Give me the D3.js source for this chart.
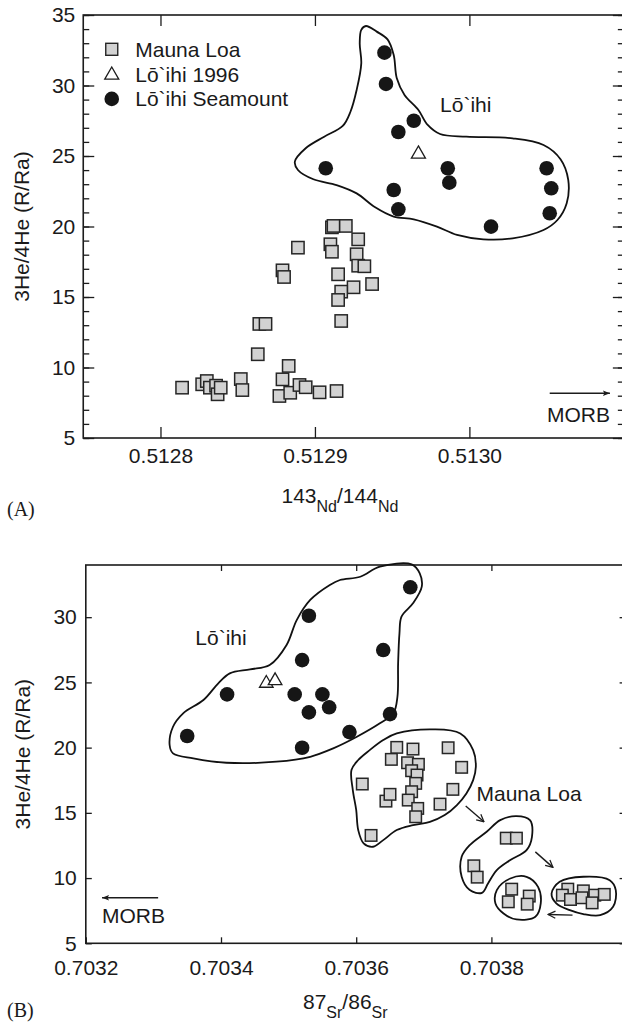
<!DOCTYPE html>
<html><head><meta charset="utf-8">
<script src="https://cdn.jsdelivr.net/npm/d3@7"></script>
<style>
body{margin:0;background:#fff}
text{font-family:"Liberation Sans",Arial,Helvetica,sans-serif;fill:#1a1a1a}
text.serif{font-family:"Liberation Serif","Times New Roman",serif}
</style>
</head><body>
<svg id="c" width="622" height="1022"></svg>
<script>
// ---------- DATA ----------
// Panel A: 143Nd/144Nd vs 3He/4He
const ndTicks = [0.5128, 0.5129, 0.5130];
const ndTickLabels = ["0.5128", "0.5129", "0.5130"];
const heTicksA = [5, 10, 15, 20, 25, 30, 35];
const heMinorA = d3.range(5, 36, 1);
const ndMaunaLoa = [
  [0.512814,8.57],[0.512827,8.81],[0.512830,9.04],[0.512832,8.57],[0.512836,8.71],[0.512837,8.10],
  [0.512839,8.57],[0.512852,9.18],[0.512853,8.40],[0.512863,10.94],[0.512864,13.09],[0.512868,13.09],
  [0.512879,16.89],[0.512880,16.42],[0.512889,18.50],[0.512883,10.11],[0.512879,9.16],[0.512877,7.98],
  [0.512884,8.21],[0.512890,8.76],[0.512894,8.60],[0.512903,8.24],[0.512914,8.33],[0.512911,19.94],
  [0.512912,20.04],[0.512920,20.04],[0.512910,18.74],[0.512911,18.21],[0.512928,19.09],[0.512927,18.03],
  [0.512928,17.22],[0.512932,17.18],[0.512915,16.61],[0.512925,15.69],[0.512937,15.92],[0.512917,15.38],
  [0.512915,14.79],[0.512917,13.30]
];
const ndLoihi1996 = [[0.512967,25.14]];
const ndLoihiSeamount = [
  [0.512945,32.33],[0.512946,30.11],[0.512964,27.50],[0.512954,26.70],[0.512907,24.13],[0.512986,24.13],
  [0.512987,23.11],[0.512951,22.59],[0.512954,21.22],[0.513014,19.99],[0.513050,24.13],[0.513053,22.71],
  [0.513052,20.94]
];
const ndLoihiEnvelope = [
  [0.512933,34.22],[0.512940,33.82],[0.512947,33.27],[0.512951,32.16],[0.512953,30.51],[0.512958,29.33],
  [0.512967,28.26],[0.512973,27.20],[0.512981,26.56],[0.512998,26.37],[0.513028,26.25],[0.513048,25.78],
  [0.513059,24.77],[0.513064,23.30],[0.513063,21.65],[0.513057,20.46],[0.513048,19.75],[0.513028,19.16],
  [0.513009,19.09],[0.512992,19.40],[0.512979,19.99],[0.512964,20.51],[0.512951,20.70],[0.512939,21.36],
  [0.512927,22.35],[0.512914,22.94],[0.512899,23.35],[0.512889,24.01],[0.512887,24.60],[0.512894,25.55],
  [0.512906,26.37],[0.512918,27.13],[0.512923,28.14],[0.512927,29.68],[0.512930,31.57],[0.512929,32.99],
  [0.512930,33.94]
];
const ndMorbArrow = [[0.513052,8.17],[0.513091,8.17]];
const ndMorbLabel = [0.513091,6.16];
const ndLoihiLabel = [0.512981,28.14];

// Panel B: 87Sr/86Sr vs 3He/4He
const srTicks = [0.7032, 0.7034, 0.7036, 0.7038];
const srTickLabels = ["0.7032", "0.7034", "0.7036", "0.7038"];
const heTicksB = [5, 10, 15, 20, 25, 30];
const srMaunaLoa = [
  [0.703660,20.02],[0.703684,19.89],[0.703736,19.99],[0.703652,19.10],[0.703676,18.84],[0.703692,18.72],
  [0.703756,18.49],[0.703682,18.23],[0.703690,17.90],[0.703609,17.21],[0.703688,17.26],[0.703743,16.80],
  [0.703682,16.62],[0.703644,15.90],[0.703650,16.42],[0.703677,15.98],[0.703724,15.67],[0.703691,15.34],
  [0.703688,14.70],[0.703622,13.27],
  [0.703822,13.06],[0.703837,13.06],[0.703774,10.94],[0.703779,10.07],
  [0.703830,9.15],[0.703825,8.18],[0.703856,8.62],[0.703853,8.00],
  [0.703913,9.15],[0.703905,8.69],[0.703917,8.36],[0.703936,9.02],[0.703934,8.49],[0.703953,8.69],
  [0.703967,8.75],[0.703949,8.10]
];
const srLoihi1996 = [[0.703467,24.93],[0.703480,25.13]];
const srLoihiSeamount = [
  [0.703680,32.29],[0.703530,30.11],[0.703640,27.48],[0.703520,26.71],[0.703409,24.08],[0.703509,24.08],
  [0.703550,24.08],[0.703560,23.09],[0.703530,22.70],[0.703650,22.57],[0.703590,21.19],[0.703350,20.89],
  [0.703520,19.99]
];
const srLoihiEnvelope = [
  [0.703697,32.34],[0.703684,31.06],[0.703667,30.04],[0.703664,28.76],[0.703662,26.46],[0.703661,23.90],
  [0.703655,22.63],[0.703635,21.86],[0.703601,20.83],[0.703566,19.94],[0.703532,19.30],[0.703482,18.92],
  [0.703408,18.84],[0.703359,19.18],[0.703329,19.56],[0.703324,20.20],[0.703329,21.60],[0.703344,22.63],
  [0.703374,23.65],[0.703396,24.93],[0.703413,25.69],[0.703443,26.00],[0.703472,26.33],[0.703497,27.87],
  [0.703512,29.78],[0.703532,31.32],[0.703561,32.47],[0.703576,32.85],[0.703606,33.10],[0.703635,33.87],
  [0.703682,34.05],[0.703694,33.36]
];
const srMaunaLoaEnvelope1 = [
  [0.703593,18.28],[0.703595,16.75],[0.703600,15.22],[0.703603,13.68],[0.703611,12.66],[0.703625,12.40],
  [0.703640,12.91],[0.703660,13.68],[0.703684,14.06],[0.703709,14.31],[0.703731,14.83],[0.703749,15.60],
  [0.703763,16.49],[0.703773,17.51],[0.703777,18.53],[0.703773,19.81],[0.703754,21.09],[0.703714,21.40],
  [0.703660,21.09],[0.703640,20.58],[0.703620,19.81],[0.703603,19.05]
];
const srMaunaLoaEnvelope2 = [
  [0.703857,14.44],[0.703860,13.16],[0.703852,12.14],[0.703828,11.38],[0.703808,10.61],[0.703795,9.59],
  [0.703786,8.87],[0.703768,9.08],[0.703756,10.10],[0.703756,11.63],[0.703768,12.53],[0.703793,13.55],
  [0.703813,14.44],[0.703837,14.75]
];
const srMaunaLoaEnvelope3 = [
  [0.703808,9.08],[0.703828,9.97],[0.703852,10.10],[0.703869,9.33],[0.703873,8.06],[0.703865,7.03],
  [0.703837,6.83],[0.703818,7.29],[0.703806,8.06]
];
const srMaunaLoaEnvelope4 = [
  [0.703889,8.82],[0.703901,9.71],[0.703936,10.10],[0.703975,9.84],[0.703984,9.08],[0.703980,7.80],
  [0.703961,7.16],[0.703936,7.24],[0.703916,7.54],[0.703896,8.06]
];
const srTrendArrows = [
  [[0.703762,15.52],[0.703789,14.32]],
  [[0.703865,12.01],[0.703891,10.82]],
  [[0.703920,7.16],[0.703884,7.21]]
];
const srMorbArrow = [[0.703307,8.49],[0.703224,8.49]];
const srMorbLabel = [0.703224,6.58];
const srLoihiLabel = [0.703362,27.87];
const srMaunaLoaLabel = [0.703778,15.90];

const legendItems = ["Mauna Loa", "L\u014D`ihi 1996", "L\u014D`ihi Seamount"];

// ---------- DRAWING ----------
const svg = d3.select("#c");
const INK = "#1c1c1c";
const FS = 21;

const defs = svg.append("defs");
defs.append("marker").attr("id","arrV").attr("viewBox","0 0 10 10")
  .attr("refX",9).attr("refY",5).attr("markerWidth",9).attr("markerHeight",9)
  .attr("markerUnits","userSpaceOnUse").attr("orient","auto")
  .append("path").attr("d","M1,1 L9,5 L1,9").attr("fill","none").attr("stroke",INK).attr("stroke-width",1.4);
defs.append("marker").attr("id","arrM").attr("viewBox","0 0 10 10")
  .attr("refX",10).attr("refY",5).attr("markerWidth",8).attr("markerHeight",7)
  .attr("markerUnits","userSpaceOnUse").attr("orient","auto")
  .append("path").attr("d","M0,1 L10,5 L0,9 L2,5 Z").attr("fill",INK);

function squares(g, data, x, y, s) {
  g.selectAll(null).data(data).enter().append("rect")
    .attr("x", d => x(d[0]) - s/2).attr("y", d => y(d[1]) - s/2)
    .attr("width", s).attr("height", s)
    .attr("fill", "#d2d2d2").attr("stroke", "#262626").attr("stroke-width", 1.5);
}
function circles(g, data, x, y, r) {
  g.selectAll(null).data(data).enter().append("circle")
    .attr("cx", d => x(d[0])).attr("cy", d => y(d[1])).attr("r", r).attr("fill", "#161616");
}
function triangles(g, data, x, y, size) {
  const sym = d3.symbol(d3.symbolTriangle, size);
  g.selectAll(null).data(data).enter().append("path")
    .attr("d", sym).attr("transform", d => `translate(${x(d[0])},${y(d[1])})`)
    .attr("fill", "#fff").attr("stroke", INK).attr("stroke-width", 1.3);
}
function envelope(g, data, x, y) {
  const line = d3.line().x(d => x(d[0])).y(d => y(d[1])).curve(d3.curveCatmullRomClosed.alpha(0.5));
  g.append("path").attr("d", line(data)).attr("fill", "none").attr("stroke", "#111").attr("stroke-width", 1.8);
}
function arrow(g, pts, x, y, marker) {
  g.append("line").attr("x1", x(pts[0][0])).attr("y1", y(pts[0][1]))
    .attr("x2", x(pts[1][0])).attr("y2", y(pts[1][1]))
    .attr("stroke", INK).attr("stroke-width", 1.4).attr("marker-end", `url(#${marker})`);
}
function styleAxis(a) {
  a.select(".domain").remove();
  a.selectAll("line").attr("stroke", INK).attr("stroke-width", 1.3);
  a.selectAll("text").attr("font-size", FS).attr("fill", INK);
}
function frame(x, y) {
  const [x0, x1] = x.range(), [y0, y1] = y.range();
  svg.append("rect").attr("x", x0).attr("y", y1).attr("width", x1 - x0).attr("height", y0 - y1)
    .attr("fill", "none").attr("stroke", INK).attr("stroke-width", 1.6);
}

// ----- Panel A -----
const xA = d3.scaleLinear().domain([0.51275, 0.51310]).range([83.25, 623.85]);
const yA = d3.scaleLinear().domain([5, 35]).range([438, 15]);
{
  const [x0, x1] = xA.range(), [yb, yt] = yA.range();
  styleAxis(svg.append("g").attr("transform", `translate(0,${yb})`)
    .call(d3.axisBottom(xA).tickValues(ndTicks).tickFormat((d,i) => ndTickLabels[i]).tickSize(-11).tickSizeOuter(0).tickPadding(10)));
  styleAxis(svg.append("g").attr("transform", `translate(0,${yt})`)
    .call(d3.axisTop(xA).tickValues(ndTicks).tickFormat("").tickSize(-11).tickSizeOuter(0)));
  styleAxis(svg.append("g").attr("transform", `translate(${x0},0)`)
    .call(d3.axisLeft(yA).tickValues(heMinorA).tickFormat("").tickSize(-6).tickSizeOuter(0)));
  styleAxis(svg.append("g").attr("transform", `translate(${x0},0)`)
    .call(d3.axisLeft(yA).tickValues(heTicksA).tickFormat(d3.format("d")).tickSize(-11).tickSizeOuter(0).tickPadding(8)));
  styleAxis(svg.append("g").attr("transform", `translate(${x1},0)`)
    .call(d3.axisRight(yA).tickValues(heMinorA).tickFormat("").tickSize(-6).tickSizeOuter(0)));
  styleAxis(svg.append("g").attr("transform", `translate(${x1},0)`)
    .call(d3.axisRight(yA).tickValues(heTicksA).tickFormat("").tickSize(-11).tickSizeOuter(0)));
  frame(xA, yA);

  const g = svg.append("g");
  envelope(g, ndLoihiEnvelope, xA, yA);
  squares(g, ndMaunaLoa, xA, yA, 12.3);
  circles(g, ndLoihiSeamount, xA, yA, 7.3);
  triangles(g, ndLoihi1996, xA, yA, 85);
  arrow(g, ndMorbArrow, xA, yA, "arrM");
  g.append("text").attr("x", xA(ndMorbLabel[0])).attr("y", yA(ndMorbLabel[1]))
    .attr("text-anchor", "end").attr("font-size", FS).text("MORB");
  g.append("text").attr("x", xA(ndLoihiLabel[0])).attr("y", yA(ndLoihiLabel[1]))
    .attr("font-size", FS).text("L\u014D`ihi");

  // legend
  const lg = svg.append("g").attr("transform", `translate(${x0 + 28.5},${yt + 34.3})`);
  legendItems.forEach((t, i) => {
    const row = lg.append("g").attr("transform", `translate(0,${i * 24.8})`);
    if (i === 0) row.append("rect").attr("x", -6).attr("y", -6).attr("width", 12).attr("height", 12)
      .attr("fill", "#d2d2d2").attr("stroke", "#262626").attr("stroke-width", 1.4);
    if (i === 1) row.append("path").attr("d", d3.symbol(d3.symbolTriangle, 85)).attr("transform","translate(0,1)")
      .attr("fill", "#fff").attr("stroke", INK).attr("stroke-width", 1.3);
    if (i === 2) row.append("circle").attr("r", 7.3).attr("fill", "#161616");
    row.append("text").attr("x", 23.5).attr("y", 7.5).attr("font-size", FS).text(t);
  });

  // axis titles
  svg.append("text").attr("transform", `translate(29,${(yb + yt) / 2}) rotate(-90)`)
    .attr("text-anchor", "middle").attr("font-size", FS).text("3He/4He (R/Ra)");
  const xt = svg.append("text").attr("x", 281.5).attr("y", 503).attr("font-size", FS);
  xt.append("tspan").text("143");
  xt.append("tspan").attr("font-size", 16).attr("dy", 8.5).text("Nd");
  xt.append("tspan").attr("dy", -8.5).text("/");
  xt.append("tspan").text("144");
  xt.append("tspan").attr("font-size", 16).attr("dy", 8.5).text("Nd");
  svg.append("text").attr("class", "serif").attr("x", 7).attr("y", 516).attr("font-size", 20).text("(A)");
}

// ----- Panel B -----
const xB = d3.scaleLinear().domain([0.7032, 0.7040]).range([85.8, 626.6]);
const yB = d3.scaleLinear().domain([5, 34]).range([943.3, 565]);
{
  const [x0, x1] = xB.range(), [yb, yt] = yB.range();
  styleAxis(svg.append("g").attr("transform", `translate(0,${yb})`)
    .call(d3.axisBottom(xB).tickValues(srTicks).tickFormat((d,i) => srTickLabels[i]).tickSize(-6).tickSizeOuter(0).tickPadding(17)));
  styleAxis(svg.append("g").attr("transform", `translate(0,${yt})`)
    .call(d3.axisTop(xB).tickValues(srTicks.slice(1)).tickFormat("").tickSize(-6).tickSizeOuter(0)));
  styleAxis(svg.append("g").attr("transform", `translate(${x0},0)`)
    .call(d3.axisLeft(yB).tickValues(heTicksB).tickFormat(d3.format("d")).tickSize(-6).tickSizeOuter(0).tickPadding(9)));
  styleAxis(svg.append("g").attr("transform", `translate(${x1},0)`)
    .call(d3.axisRight(yB).tickValues(heTicksB).tickFormat("").tickSize(-7).tickSizeOuter(0)));
  frame(xB, yB);

  const g = svg.append("g");
  envelope(g, srLoihiEnvelope, xB, yB);
  envelope(g, srMaunaLoaEnvelope1, xB, yB);
  envelope(g, srMaunaLoaEnvelope2, xB, yB);
  envelope(g, srMaunaLoaEnvelope3, xB, yB);
  envelope(g, srMaunaLoaEnvelope4, xB, yB);
  squares(g, srMaunaLoa, xB, yB, 11.5);
  circles(g, srLoihiSeamount, xB, yB, 7.3);
  triangles(g, srLoihi1996, xB, yB, 80);
  srTrendArrows.forEach(a => arrow(g, a, xB, yB, "arrV"));
  arrow(g, srMorbArrow, xB, yB, "arrM");
  g.append("text").attr("x", xB(srMorbLabel[0])).attr("y", yB(srMorbLabel[1]))
    .attr("font-size", FS).text("MORB");
  g.append("text").attr("x", xB(srLoihiLabel[0])).attr("y", yB(srLoihiLabel[1]))
    .attr("font-size", FS).text("L\u014D`ihi");
  g.append("text").attr("x", xB(srMaunaLoaLabel[0])).attr("y", yB(srMaunaLoaLabel[1]))
    .attr("font-size", FS).text("Mauna Loa");

  svg.append("text").attr("transform", `translate(30,${(yb + yt) / 2}) rotate(-90)`)
    .attr("text-anchor", "middle").attr("font-size", FS).text("3He/4He (R/Ra)");
  const xt = svg.append("text").attr("x", 303).attr("y", 1009).attr("font-size", FS);
  xt.append("tspan").text("87");
  xt.append("tspan").attr("font-size", 16).attr("dy", 9).text("Sr");
  xt.append("tspan").attr("dy", -9).text("/");
  xt.append("tspan").text("86");
  xt.append("tspan").attr("font-size", 16).attr("dy", 9).text("Sr");
  svg.append("text").attr("class", "serif").attr("x", 7).attr("y", 1017).attr("font-size", 20).text("(B)");
}
</script>
</body></html>
